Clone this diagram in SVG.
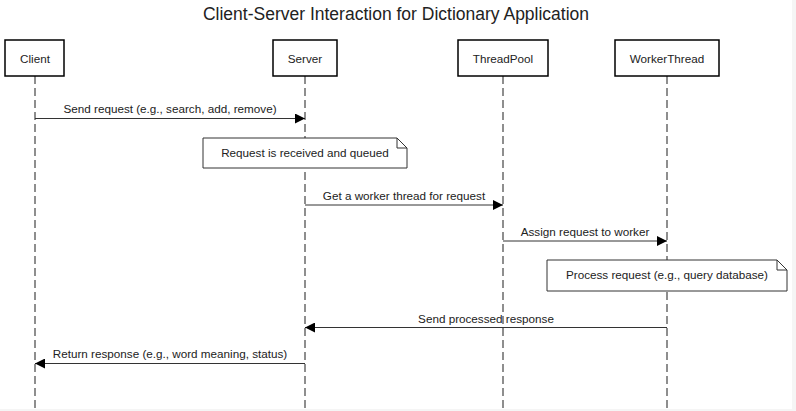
<svg xmlns="http://www.w3.org/2000/svg" width="796" height="411" viewBox="0 0 796 411">
<style>
text{font-family:"Liberation Sans",Arial,sans-serif;fill:#222}
.actor rect{fill:#fff;stroke:#000;stroke-width:1.5}
.actor text{font-size:11.7px;text-anchor:middle}
.life{stroke:#444;stroke-width:1.2;stroke-dasharray:8 4;fill:none}
.msg line{stroke:#333;stroke-width:1}
.msg text{font-size:11.7px;text-anchor:middle}
.note path{fill:#fff;stroke:#333;stroke-width:1}
.note text{font-size:11.7px;text-anchor:middle}
</style>
<defs>
<marker id="ah" viewBox="0 0 10 10" refX="10" refY="5" markerWidth="10" markerHeight="10" markerUnits="userSpaceOnUse" orient="auto">
<path d="M0,0 L10,5 L0,10 z" fill="#000"/>
</marker>
</defs>
<rect x="0" y="0" width="796" height="411" fill="#f5f5f5"/>
<rect x="0" y="0" width="792" height="409" fill="#fff"/>
<text x="396" y="20" font-size="17.5" text-anchor="middle">Client-Server Interaction for Dictionary Application</text>
<g id="lifelines">
<line class="life" x1="35" y1="76" x2="35" y2="411"/>
<line class="life" x1="305" y1="76" x2="305" y2="411"/>
<line class="life" x1="503" y1="76" x2="503" y2="411"/>
<line class="life" x1="667" y1="76" x2="667" y2="411"/>
</g>
<g id="client" class="actor"><rect x="5" y="40" width="59" height="36"/><text x="35" y="63">Client</text></g>
<g id="server" class="actor"><rect x="273" y="40" width="64" height="36"/><text x="305" y="63">Server</text></g>
<g id="threadpool" class="actor"><rect x="458" y="40" width="90" height="36"/><text x="503" y="63">ThreadPool</text></g>
<g id="workerthread" class="actor"><rect x="615" y="40" width="104" height="36"/><text x="667" y="63">WorkerThread</text></g>
<g id="note1" class="note"><path d="M203,138 H397 L407,148 V168 H203 Z M397,138 V148 H407"/><text x="305" y="156.5">Request is received and queued</text></g>
<g id="note2" class="note"><path d="M547,260 H777 L787,270 V291 H547 Z M777,260 V270 H787"/><text x="667" y="279">Process request (e.g., query database)</text></g>
<g id="connectors" class="msg">
<line x1="35" y1="118.5" x2="305" y2="118.5" marker-end="url(#ah)"/>
<text x="170" y="113">Send request (e.g., search, add, remove)</text>
<line x1="305" y1="205" x2="503" y2="205" marker-end="url(#ah)"/>
<text x="404" y="199.5">Get a worker thread for request</text>
<line x1="503" y1="241" x2="667" y2="241" marker-end="url(#ah)"/>
<text x="585" y="236">Assign request to worker</text>
<line x1="667" y1="327.5" x2="305" y2="327.5" marker-end="url(#ah)"/>
<text x="486" y="322.5">Send processed response</text>
<line x1="305" y1="363.5" x2="35" y2="363.5" marker-end="url(#ah)"/>
<text x="170" y="358">Return response (e.g., word meaning, status)</text>
</g>
</svg>
